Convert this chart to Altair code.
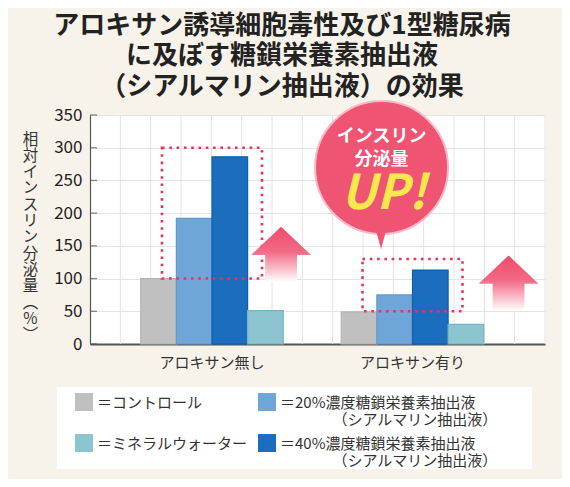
import altair as alt
import pandas as pd

FONT = "Noto Sans CJK JP"

# ---------------- data ----------------
groups = ["アロキサン無し", "アロキサン有り"]
s_ctrl = "コントロール"
s_20 = "20%濃度糖鎖栄養素抽出液（シアルマリン抽出液）"
s_40 = "40%濃度糖鎖栄養素抽出液（シアルマリン抽出液）"
s_min = "ミネラルウォーター"

control_vals = [100, 49]
ext20_vals = [192, 75]
ext40_vals = [286, 113]
mineral_vals = [51, 30]

legend_order = [s_ctrl, s_min, s_20, s_40]
bar_order = [s_ctrl, s_20, s_40, s_min]
fill_colors = ["#c0c0c0", "#8cc5d0", "#6fa6d8", "#1b6ebd"]
stroke_colors = ["#b4b4b4", "#76b5c2", "#5f98cf", "#0f5fae"]

y_ticks = [0, 50, 100, 150, 200, 250, 300, 350]
grid_cols = list(range(1, 16))

# highlighted (dotted) ranges per group
hl_low = [100, 50]
hl_high = [300, 130]
# arrow centres (value units)
arrow_mid = [137, 93]

title_lines = ["アロキサン誘導細胞毒性及び1型糖尿病", "に及ぼす糖鎖栄養素抽出液", "（シアルマリン抽出液）の効果"]
y_title_chars = ["相", "対", "イ", "ン", "ス", "リ", "ン", "分", "泌", "量", "︵", "%", "︶"]

bubble_lines = ["インスリン", "分泌量"]
bubble_line_y = [316.4, 281.2]
bubble_center_y = 269.8
bubble_tail_y = 161.2
bubble_up_y = 227.7

rows = []
for name, vals in [(s_ctrl, control_vals), (s_20, ext20_vals), (s_40, ext40_vals), (s_min, mineral_vals)]:
    for g, v in zip(groups, vals):
        rows.append({"group": g, "series": name, "value": v})
bars_df = pd.DataFrame(rows)

# ---------------- scales / axes ----------------
xscale = alt.Scale(domain=groups, paddingInner=0.2893, paddingOuter=0.2793, align=0.453)
yscale = alt.Scale(domain=[0, 350], nice=False, zero=True)
y_axis = alt.Axis(values=y_ticks, grid=True, gridColor="#e4e4e4", domainColor="#555",
                  domainWidth=1.2, ticks=False, tickSize=0, labelFontSize=17,
                  labelColor="#222", labelPadding=8, labelFont=FONT,
                  title=y_title_chars, titleAngle=0, titleX=-60, titleY=17,
                  titleAlign="center", titleBaseline="top", titleFontSize=15.5,
                  titleLineHeight=16.3, titleFontWeight="normal", titleColor="#333",
                  titleFont=FONT)


def Y(field):
    return alt.Y(field, scale=yscale, axis=y_axis)


def XG():
    return alt.X("group:N", scale=xscale, sort=groups, axis=None)


grid = alt.Chart(alt.Data(values=[{"col": c} for c in grid_cols])).mark_rule(
    color="#e4e4e4", strokeWidth=1
).encode(
    x=alt.X("col:Q", scale=alt.Scale(domain=[0, 15], nice=False, zero=False), axis=None)
)

legend_box = alt.Chart(alt.Data(values=[{"k": 1}])).mark_rect(fill="white").encode(
    x=alt.value(-33), x2=alt.value(442), y=alt.value(272), y2=alt.value(354)
)

label_expr = (
    "indexof(datum.label, '（') > 0 ? "
    "['＝' + slice(datum.label, 0, indexof(datum.label, '（')), "
    "'\u200b　　　　' + slice(datum.label, indexof(datum.label, '（'))] : "
    "['＝' + datum.label, '\u200b　']"
)

bars = alt.Chart(bars_df).mark_bar(strokeWidth=1.2).encode(
    x=alt.X(
        "group:N", scale=xscale, sort=groups,
        axis=alt.Axis(title=None, labelFontSize=15, labelColor="#333", labelPadding=11,
                      ticks=False, tickSize=0, domainColor="#555", domainWidth=2,
                      labelAngle=0, grid=False, labelFont=FONT),
    ),
    xOffset=alt.XOffset("series:N", sort=bar_order,
                        scale=alt.Scale(domain=bar_order, paddingInner=0, paddingOuter=0)),
    y=Y("value:Q"),
    color=alt.Color(
        "series:N", scale=alt.Scale(domain=legend_order, range=fill_colors),
        legend=alt.Legend(title=None, orient="none", legendX=-15, legendY=272, columns=2,
                          symbolType="M-1,-0.33L1,-0.33L1,1.67L-1,1.67Z", symbolSize=324,
                          symbolStrokeWidth=0, labelFontSize=15, labelColor="#333",
                          labelOffset=4, labelLimit=400, labelExpr=label_expr,
                          labelBaseline="top", rowPadding=-10, columnPadding=10,
                          labelFont=FONT),
    ),
    stroke=alt.Stroke("series:N", scale=alt.Scale(domain=legend_order, range=stroke_colors), legend=None),
)

hl = alt.Chart(pd.DataFrame({"group": groups, "value": hl_low, "value2": hl_high})).mark_bar(
    width=100, fill="white", fillOpacity=0, stroke="#ee3158", strokeWidth=2.6, strokeDash=[2.6, 4.7]
).encode(x=XG(), y=Y("value:Q"), y2="value2:Q")

ARROW = "M0,-0.92L1,0.02L0.53,0.02L0.53,0.92L-0.53,0.92L-0.53,0.02L-1,0.02Z"
arrow_fill = alt.LinearGradient(
    gradient="linear", x1=0, y1=0, x2=0, y2=1,
    stops=[alt.GradientStop(offset=0, color="#ef4b6c"),
           alt.GradientStop(offset=0.45, color="#f26a86"),
           alt.GradientStop(offset=1, color="#ffffff")],
)
arrows = alt.Chart(pd.DataFrame({"group": groups, "value": arrow_mid})).mark_point(
    shape=ARROW, size=3600, filled=True, fill=arrow_fill, opacity=1, strokeWidth=0, xOffset=88
).encode(x=XG(), y=Y("value:Q"))

bubble = alt.Chart(pd.DataFrame({"group": [groups[1]], "value": [bubble_center_y]})).mark_point(
    shape="circle", size=17689, filled=True, fill="#ef5472", stroke="#f8b9c7", strokeWidth=2,
    opacity=1, xOffset=-39
).encode(x=XG(), y=Y("value:Q"))

tail = alt.Chart(pd.DataFrame({"group": [groups[1]], "value": [bubble_tail_y]})).mark_point(
    shape="M-0.55,-1L0.55,-1L0,1Z", size=441, filled=True, fill="#ef5472", opacity=1,
    strokeWidth=0, xOffset=-39.5
).encode(x=XG(), y=Y("value:Q"))

bub_text = alt.Chart(pd.DataFrame({"group": [groups[1]] * 2, "value": bubble_line_y, "t": bubble_lines})).mark_text(
    font=FONT, fontSize=18, fontWeight="bold", color="white", dx=-39, baseline="middle"
).encode(x=XG(), y=Y("value:Q"), text="t:N")

up_text = alt.Chart(pd.DataFrame({"group": [groups[1]], "value": [bubble_up_y], "t": ["UP!"]})).mark_text(
    font=FONT, fontSize=48, fontWeight="bold", fontStyle="italic", color="#fbe84c", dx=-37,
    baseline="middle"
).encode(x=XG(), y=Y("value:Q"), text="t:N")

inner_ticks = alt.Chart(pd.DataFrame({"value": y_ticks})).mark_tick(
    size=7, thickness=1.3, color="#555"
).encode(y=Y("value:Q"), x=alt.value(3.5))

chart = alt.layer(
    grid, legend_box, bars, hl, arrows, bubble, tail, bub_text, up_text, inner_ticks
).resolve_scale(x="independent").properties(
    width=455, height=229,
    autosize=alt.AutoSizeParams(type="none"),
    padding={"left": 82, "top": 107, "right": 17, "bottom": 135},
    background="#f7f3ea",
    title=alt.TitleParams(text=title_lines, fontSize=26, font=FONT, fontWeight="bold",
                          color="#222", lineHeight=30.5, anchor="middle", frame="group",
                          dx=-35.5, dy=33, offset=4, baseline="bottom"),
).configure_view(fill="white", stroke="transparent")

chart.save("out.html", embed_options={"renderer": "svg", "actions": False})
